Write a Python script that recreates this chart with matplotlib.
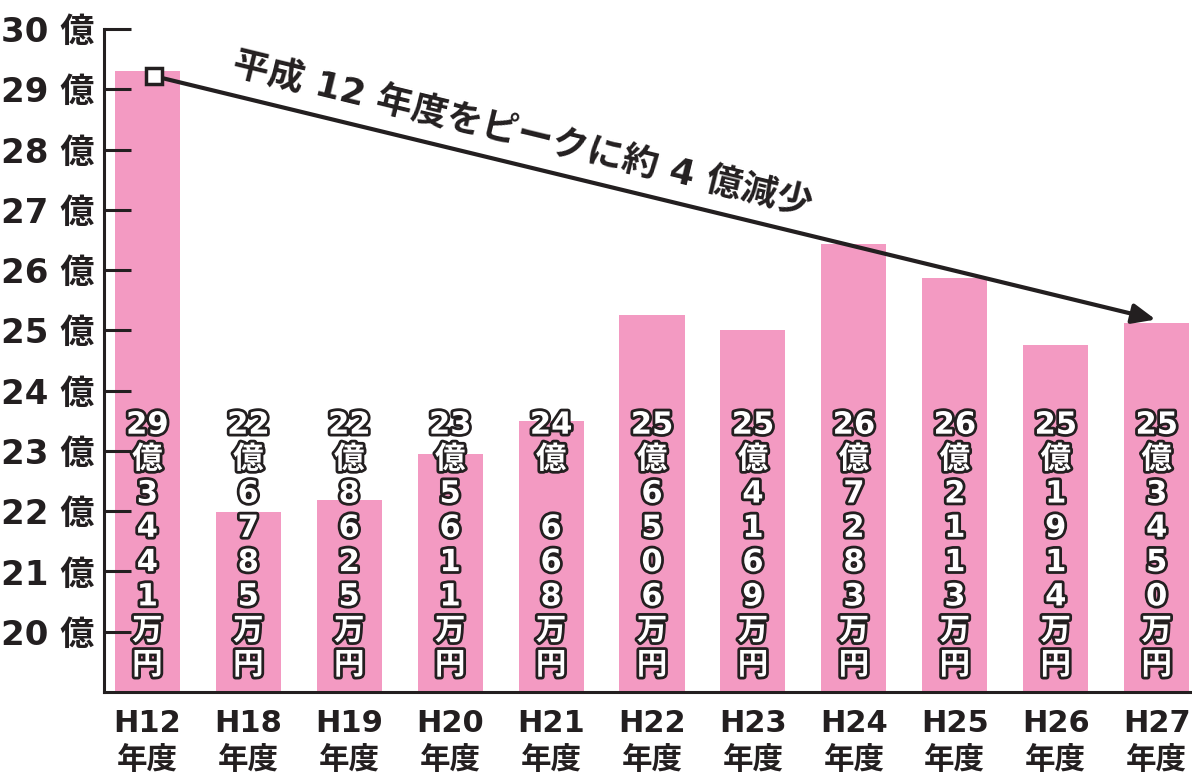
import matplotlib

matplotlib.use("Agg")

import matplotlib.pyplot as plt
import matplotlib.patheffects as pe

plt.rcParams["font.family"] = ["DejaVu Sans", "Noto Sans CJK JP"]

# data
years = ["H12", "H18", "H19", "H20", "H21", "H22", "H23", "H24", "H25", "H26", "H27"]
bar_heights = [29.31, 21.98, 22.18, 22.95, 23.50, 25.25, 25.00, 26.44, 25.87, 24.75, 25.12]
oku = ["29", "22", "22", "23", "24", "25", "25", "26", "26", "25", "25"]
man = ["3441", "6785", "8625", "5611", " 668", "6506", "4169", "7283", "2113", "1914", "3450"]
y_ticks = [20, 21, 22, 23, 24, 25, 26, 27, 28, 29, 30]

ink = "#231f20"
pink = "#f39ac2"

fig = plt.figure(figsize=(11.92, 7.76), dpi=100)
ax = fig.add_axes([0.0872, 0.1082, 0.9128, 0.8544])

x = list(range(len(years)))
ax.bar(x, [h - 19 for h in bar_heights], bottom=19, width=0.645, color=pink, zorder=1)

ax.set_ylim(19, 30)
ax.set_xlim(-0.43, 10.35)
ax.set_yticks(y_ticks)
ax.set_yticklabels([f"{v} 億" for v in y_ticks], fontsize=24.5, fontweight="bold", color=ink)
ax.set_xticks(x)
ax.set_xticklabels([f"{y}\n年度" for y in years], fontsize=22, fontweight="bold",
                   color=ink, linespacing=1.35)
ax.tick_params(axis="y", direction="in", length=19.5, width=2.2, color=ink, pad=7)
ax.tick_params(axis="x", length=0, pad=12)
for s in ["top", "right"]:
    ax.spines[s].set_visible(False)
for s in ["left", "bottom"]:
    ax.spines[s].set_linewidth(2.2)
    ax.spines[s].set_color(ink)
    ax.spines[s].set_capstyle("projecting")

# vertical labels inside the bars
outline = [pe.withStroke(linewidth=4, foreground=ink)]
for i in x:
    chars = [oku[i], "億"] + list(man[i]) + ["万", "円"]
    label = "\n".join(c.strip() for c in chars)
    ax.text(i, 19.2, label, ha="center", va="bottom", fontsize=22, fontweight="bold",
            color="white", linespacing=1.23, path_effects=outline, zorder=3)

# trend arrow from the H12 peak to H27
x0, y0 = 0.064, 29.22
x1, y1 = 9.99, 25.18
ax.annotate("", xy=(x1, y1), xytext=(x0, y0),
            arrowprops=dict(arrowstyle="-|>,head_length=1.4,head_width=0.6",
                            color=ink, lw=3, shrinkA=0, shrinkB=0), zorder=4)
ax.plot([x0], [y0], marker="s", markersize=11, markerfacecolor="white",
        markeredgecolor=ink, markeredgewidth=2.5, zorder=5)
ax.text(3.72, 28.26, "平成 12 年度をピークに約 4 億減少", rotation=-13.7,
        rotation_mode="anchor", ha="center", va="center", fontsize=26,
        fontweight="bold", color=ink, zorder=5)

fig.savefig("out.png", dpi=100)
plt.close(fig)
